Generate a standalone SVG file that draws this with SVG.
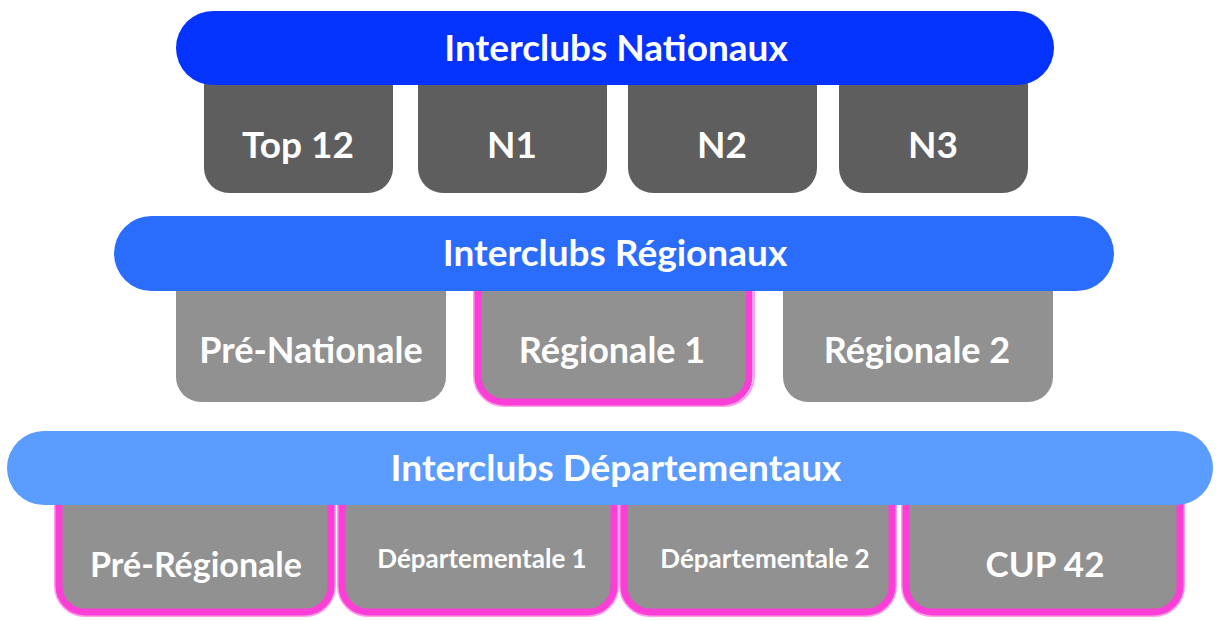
<svg xmlns="http://www.w3.org/2000/svg" width="1220" height="621" viewBox="0 0 1220 621">
<style>
.bar{font-family:Lato,"Open Sans",sans-serif;font-weight:700;fill:#fff;text-anchor:middle}
.lbl{font-family:Lato,"Open Sans",sans-serif;font-weight:700;fill:#fff;text-anchor:middle}
.dark{fill:#5e5e5e}
.grey{fill:#919191}
.pink{fill:#919191;stroke:#fb3fd6;stroke-width:7}
.pink2{fill:none;stroke:#fb3fd6;stroke-width:2;opacity:0.5}
</style>
<rect width="1220" height="621" fill="#fff"/>
<g id="nationaux">
  <g id="top12"><rect class="dark" x="204" y="60" width="189" height="133" rx="25"/><text class="lbl" x="298" y="158" font-size="37">Top 12</text></g>
  <g id="n1"><rect class="dark" x="418" y="60" width="189" height="133" rx="25"/><text class="lbl" x="512" y="158" font-size="37">N1</text></g>
  <g id="n2"><rect class="dark" x="628" y="60" width="189" height="133" rx="25"/><text class="lbl" x="722" y="158" font-size="37">N2</text></g>
  <g id="n3"><rect class="dark" x="839" y="60" width="189" height="133" rx="25"/><text class="lbl" x="933" y="158" font-size="37">N3</text></g>
  <g id="bar-nat"><rect x="176" y="11" width="878" height="74" rx="37" fill="#0433ff"/><text class="bar" x="616" y="61" font-size="37">Interclubs Nationaux</text></g>
</g>
<g id="regionaux">
  <g id="prenat"><rect class="grey" x="176" y="260" width="270" height="142" rx="25"/><text class="lbl" x="311" y="363" font-size="36">Pré-Nationale</text></g>
  <g id="reg1"><rect class="pink2" x="474" y="261" width="280" height="145" rx="30"/><rect class="pink" x="478" y="260" width="271" height="142" rx="26"/><text class="lbl" x="612" y="363" font-size="36">Régionale 1</text></g>
  <g id="reg2"><rect class="grey" x="783" y="260" width="270" height="142" rx="25"/><text class="lbl" x="917" y="363" font-size="36">Régionale 2</text></g>
  <g id="bar-reg"><rect x="114" y="216" width="1000" height="75" rx="37.5" fill="#2a6dfd"/><text class="bar" x="615" y="266" font-size="37">Interclubs Régionaux</text></g>
</g>
<g id="departementaux">
  <g id="prereg"><rect class="pink2" x="55" y="471" width="280" height="145" rx="30"/><rect class="pink" x="59" y="470" width="272" height="142" rx="26"/><text class="lbl" x="196" y="577" font-size="34">Pré-Régionale</text></g>
  <g id="dep1"><rect class="pink2" x="338" y="471" width="280" height="145" rx="30"/><rect class="pink" x="342" y="470" width="272" height="142" rx="26"/><text class="lbl" x="482" y="568" font-size="26">Départementale 1</text></g>
  <g id="dep2"><rect class="pink2" x="620" y="471" width="276" height="145" rx="30"/><rect class="pink" x="624" y="470" width="268" height="142" rx="26"/><text class="lbl" x="765" y="568" font-size="26">Départementale 2</text></g>
  <g id="cup42"><rect class="pink2" x="902" y="471" width="282" height="145" rx="30"/><rect class="pink" x="906" y="470" width="274" height="142" rx="26"/><text class="lbl" x="1045" y="577" font-size="35">CUP 42</text></g>
  <g id="bar-dep"><rect x="7" y="431" width="1206" height="74" rx="37" fill="#5a9cff"/><text class="bar" x="616" y="481" font-size="37">Interclubs Départementaux</text></g>
</g>
<g id="connectors"></g>
</svg>
